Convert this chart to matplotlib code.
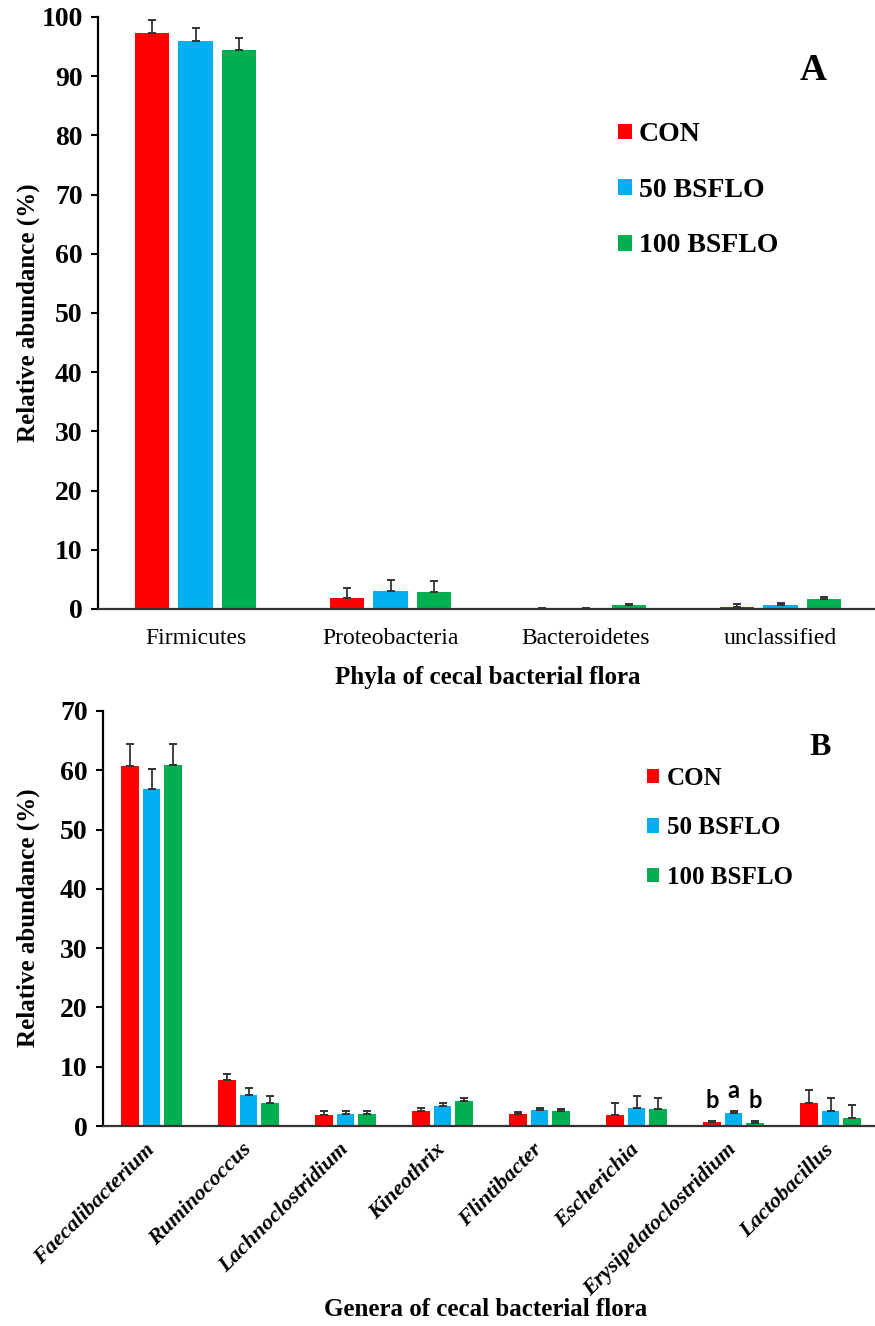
import matplotlib.pyplot as plt
import numpy as np

# Данные: панель A (типы)
phyla = ['Firmicutes', 'Proteobacteria', 'Bacteroidetes', 'unclassified']
phyla_con = [97.3, 1.8, 0.05, 0.4]
phyla_con_err = [2.2, 1.8, 0.2, 0.5]
phyla_50 = [96.0, 3.0, 0.05, 0.6]
phyla_50_err = [2.2, 1.9, 0.2, 0.4]
phyla_100 = [94.4, 2.8, 0.6, 1.7]
phyla_100_err = [2.1, 1.9, 0.3, 0.4]

# Данные: панель B (роды)
genera = ['Faecalibacterium', 'Ruminococcus', 'Lachnoclostridium', 'Kineothrix',
          'Flintibacter', 'Escherichia', 'Erysipelatoclostridium', 'Lactobacillus']
gen_con = [60.7, 7.7, 1.9, 2.5, 2.0, 1.8, 0.6, 3.9]
gen_con_err = [3.7, 1.1, 0.6, 0.6, 0.4, 2.1, 0.3, 2.1]
gen_50 = [56.8, 5.2, 2.0, 3.4, 2.7, 3.1, 2.2, 2.6]
gen_50_err = [3.5, 1.2, 0.5, 0.5, 0.4, 1.9, 0.4, 2.2]
gen_100 = [60.9, 3.9, 2.0, 4.2, 2.5, 2.9, 0.5, 1.4]
gen_100_err = [3.6, 1.1, 0.5, 0.5, 0.3, 1.8, 0.4, 2.2]

# буквы значимости (Erysipelatoclostridium)
sig_idx = 6
sig_letters = ['b', 'a', 'b']

groups = ['CON', '50 BSFLO', '100 BSFLO']
colors = ['#FF0000', '#00B0F0', '#00B050']

serif = 'Liberation Serif'
plt.rcParams['font.family'] = serif

fig = plt.figure(figsize=(8.75, 13.26), dpi=100)
H = 1326.0
W = 875.0

def px_axes(left, right, top, bottom):
    return fig.add_axes([left / W, 1 - bottom / H, (right - left) / W, (bottom - top) / H])

axA = px_axes(98, 878, 17, 609)
axB = px_axes(103, 879, 711, 1126)

width = 0.176
step = 0.222


def draw(ax, cats, vals, errs, ylim, yticks):
    x = np.arange(len(cats))
    for k in range(3):
        pos = x + (k - 1) * step
        ax.bar(pos, vals[k], width, color=colors[k], label=groups[k], zorder=2)
        ax.errorbar(pos, vals[k], yerr=[np.zeros(len(cats)), errs[k]], fmt='none',
                    ecolor='#333333', elinewidth=1.3, capsize=3.2, capthick=1.4, zorder=3)
    ax.set_xlim(-0.5, len(cats) - 0.5)
    ax.set_ylim(*ylim)
    ax.set_yticks(yticks)
    ax.spines['top'].set_visible(False)
    ax.spines['right'].set_visible(False)
    ax.spines['left'].set_linewidth(1.6)
    ax.spines['bottom'].set_linewidth(1.6)
    ax.spines['bottom'].set_color('#333333')
    ax.spines['bottom'].set_zorder(4)
    ax.tick_params(axis='y', direction='out', length=5, width=1.5, pad=6)
    for lab in ax.get_yticklabels():
        lab.set_fontweight('bold')
        lab.set_fontsize(20)
    ax.set_xticks(x)
    return x


xa = draw(axA, phyla, [phyla_con, phyla_50, phyla_100],
          [phyla_con_err, phyla_50_err, phyla_100_err], (0, 100), range(0, 101, 10))
axA.set_xticklabels(phyla, fontsize=17)
axA.tick_params(axis='x', length=0, pad=14)
axA.set_xlabel('Phyla of cecal bacterial flora', fontsize=18, fontweight='bold', labelpad=12)
axA.text(0.917, 0.91, 'A', transform=axA.transAxes, fontsize=27, fontweight='bold',
         ha='center', va='center')
axA.legend(loc='upper left', bbox_to_anchor=(0.667, 0.822), frameon=False,
           prop={'family': serif, 'weight': 'bold', 'size': 20},
           handlelength=0.5, handleheight=0.5, handletextpad=0.25,
           labelspacing=1.1, borderpad=0, borderaxespad=0)

xb = draw(axB, genera, [gen_con, gen_50, gen_100],
          [gen_con_err, gen_50_err, gen_100_err], (0, 70), range(0, 71, 10))
axB.set_xticklabels(genera, fontsize=16, fontstyle='italic', fontweight='bold',
                    rotation=45, ha='right', va='center', rotation_mode='anchor')
axB.tick_params(axis='x', length=0, pad=15)
axB.text(0.924, 0.911, 'B', transform=axB.transAxes, fontsize=23, fontweight='bold',
         ha='center', va='center')
axB.legend(loc='upper left', bbox_to_anchor=(0.701, 0.865), frameon=False,
           prop={'family': serif, 'weight': 'bold', 'size': 18},
           handlelength=0.5, handleheight=0.5, handletextpad=0.3,
           labelspacing=1.05, borderpad=0, borderaxespad=0)

sig_vals = [gen_con, gen_50, gen_100]
sig_errs = [gen_con_err, gen_50_err, gen_100_err]
for k in range(3):
    top = sig_vals[k][sig_idx] + sig_errs[k][sig_idx]
    axB.text(sig_idx + (k - 1) * step, top + 1.4, sig_letters[k], ha='center', va='bottom',
             fontsize=17, fontweight='bold', family='Lato')

fig.text(486 / W, 1 - 1310 / H, 'Genera of cecal bacterial flora', fontsize=18,
         fontweight='bold', ha='center', va='center')
fig.text(28 / W, 1 - 313 / H, 'Relative abundance (%)', rotation=90, fontsize=18,
         fontweight='bold', ha='center', va='center')
fig.text(28 / W, 1 - 918 / H, 'Relative abundance (%)', rotation=90, fontsize=18,
         fontweight='bold', ha='center', va='center')

fig.savefig('out.png', dpi=100)
